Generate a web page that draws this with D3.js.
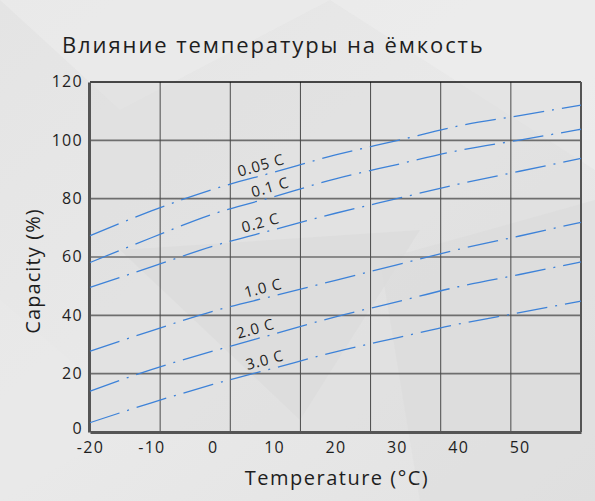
<!DOCTYPE html>
<html>
<head>
<meta charset="utf-8">
<script src="https://cdn.jsdelivr.net/npm/d3@7"></script>
<style>
  html, body { margin: 0; padding: 0; }
  body { width: 595px; height: 501px; overflow: hidden; background: #e5e5e5; }
  svg { display: block; font-family: "Open Sans", "Noto Sans", sans-serif; }
</style>
</head>
<body>
<div id="chart"></div>
<script>
// temperatures (°C) at which the curves are sampled
const temps = [-20, -10, 0, 10, 20, 30, 40, 50, 60];

// capacity (%) per discharge rate
const cap005 = [67.3, 75.8, 83.2, 89.1, 95.0, 99.9, 104.9, 108.5, 112.1];
const cap01  = [58.1, 66.6, 74.7, 80.7, 86.8, 91.7, 96.5, 100.1, 103.8];
const cap02  = [49.6, 56.6, 63.7, 69.4, 75.0, 80.0, 85.0, 89.4, 93.8];
const cap10  = [27.7, 34.7, 41.4, 46.7, 52.0, 57.3, 62.6, 67.2, 71.9];
const cap20  = [14.0, 21.4, 27.7, 33.6, 39.5, 44.6, 49.8, 54.0, 58.3];
const cap30  = [3.2, 10.0, 16.3, 21.9, 27.5, 32.3, 37.0, 40.9, 44.9];

const seriesNames = ['0.05 C', '0.1 C', '0.2 C', '1.0 C', '2.0 C', '3.0 C'];
const seriesValues = [cap005, cap01, cap02, cap10, cap20, cap30];
// temperature where each curve label sits
const labelTemps = [8.3, 9.8, 8.2, 8.6, 7.4, 8.9];

const xTicks = [-20, -10, 0, 10, 20, 30, 40, 50];
const yTicks = [0, 20, 40, 60, 80, 100, 120];

const title = 'Влияние температуры на ёмкость';
const xTitle = 'Temperature (°C)';
const yTitle = 'Capacity (%)';

const width = 595, height = 501;
const margin = { top: 82, right: 14, bottom: 69, left: 90 };

const svg = d3.select('#chart')
  .append('svg')
  .attr('width', width)
  .attr('height', height);

// background, light grey with a few faint facets
const defs = svg.append('defs');
const bg = defs.append('linearGradient')
  .attr('id', 'bg').attr('x1', 0).attr('y1', 0).attr('x2', 1).attr('y2', 1);
bg.append('stop').attr('offset', 0).attr('stop-color', '#e4e4e4');
bg.append('stop').attr('offset', 0.5).attr('stop-color', '#e9e9e9');
bg.append('stop').attr('offset', 1).attr('stop-color', '#e2e2e2');
svg.append('rect').attr('width', width).attr('height', height).attr('fill', 'url(#bg)');

const facets = [
  [[0, 0], [330, 0], [120, 110]],
  [[330, 0], [595, 0], [595, 170]],
  [[120, 250], [420, 230], [300, 420]],
  [[380, 260], [595, 200], [595, 501], [420, 501]],
  [[0, 300], [140, 420], [0, 501]]
];
const facetFills = ['#ececec', '#eeeeee', '#dcdcdc', '#dedede', '#e9e9e9'];
svg.append('g').selectAll('polygon')
  .data(facets)
  .join('polygon')
    .attr('points', d => d.map(p => p.join(',')).join(' '))
    .attr('fill', (d, i) => facetFills[i])
    .attr('opacity', 0.6);

const x = d3.scaleLinear()
  .domain([-20, 60])
  .range([margin.left, width - margin.right]);

const y = d3.scaleLinear()
  .domain([0, 120])
  .range([height - margin.bottom, margin.top]);

// plot area tint
svg.append('rect')
  .attr('x', x(-20)).attr('y', y(120))
  .attr('width', x(60) - x(-20)).attr('height', y(0) - y(120))
  .attr('fill', '#d8d8d8').attr('opacity', 0.35);

// grid: horizontal lines follow y ticks, vertical lines split the area in 7
const gridX = d3.range(1, 7).map(i => -20 + i * 80 / 7);

svg.append('g')
  .selectAll('line')
  .data(yTicks.slice(1, -1))
  .join('line')
    .attr('x1', x(-20)).attr('x2', x(60))
    .attr('y1', d => y(d)).attr('y2', d => y(d))
    .attr('stroke', '#6e6e6e')
    .attr('stroke-width', 1.6);

svg.append('g')
  .selectAll('line')
  .data(gridX)
  .join('line')
    .attr('x1', d => x(d)).attr('x2', d => x(d))
    .attr('y1', y(0)).attr('y2', y(120))
    .attr('stroke', '#4a4a4a')
    .attr('stroke-width', 1);

// frame
svg.append('line')
  .attr('x1', x(-20)).attr('x2', x(60))
  .attr('y1', y(120)).attr('y2', y(120))
  .attr('stroke', '#111').attr('stroke-width', 1.5);
svg.append('line')
  .attr('x1', x(60)).attr('x2', x(60))
  .attr('y1', y(120)).attr('y2', y(0))
  .attr('stroke', '#555').attr('stroke-width', 2);

// axes
const xAxis = svg.append('g')
  .attr('transform', `translate(0,${y(0)})`)
  .call(d3.axisBottom(x).tickValues(xTicks).tickFormat(d => String(d)).tickSize(0).tickPadding(10));
const yAxis = svg.append('g')
  .attr('transform', `translate(${x(-20) - 1},0)`)
  .call(d3.axisLeft(y).tickValues(yTicks).tickFormat(d => String(d)).tickSize(0).tickPadding(6));

[xAxis, yAxis].forEach(g => {
  g.select('.domain').attr('stroke', '#555').attr('stroke-width', 3);
  g.selectAll('text')
    .attr('fill', '#1e1e1e')
    .attr('font-size', 16)
    .attr('letter-spacing', 1.3)
    .attr('font-family', '"Open Sans", "Noto Sans", sans-serif');
});
// zero sits a little above the axis line, the rest are centred on their gridline
yAxis.selectAll('text').attr('dy', d => d === 0 ? '0.08em' : '0.3em');

// curves
const line = d3.line()
  .x((d, i) => x(temps[i]))
  .y(d => y(d))
  .curve(d3.curveMonotoneX);

const plot = svg.append('g');
plot.selectAll('path')
  .data(seriesValues)
  .join('path')
    .attr('d', line)
    .attr('fill', 'none')
    .attr('stroke', '#3d82d8')
    .attr('stroke-width', 1.3)
    .attr('stroke-dasharray', '31 8 2 8');

// curve labels, placed on each line and tilted along it
function valueAt(values, t) {
  return d3.scaleLinear().domain(temps).range(values)(t);
}
plot.selectAll('text')
  .data(seriesNames)
  .join('text')
    .attr('transform', (d, i) => {
      const t = labelTemps[i];
      const px = x(t), py = y(valueAt(seriesValues[i], t));
      const slope = (y(valueAt(seriesValues[i], t + 2)) - y(valueAt(seriesValues[i], t - 2))) / (x(t + 2) - x(t - 2));
      const ang = Math.atan(slope) * 180 / Math.PI;
      return `translate(${px},${py}) rotate(${ang})`;
    })
    .attr('dy', -5)
    .attr('text-anchor', 'middle')
    .attr('font-size', 15)
    .attr('letter-spacing', 0.8)
    .attr('fill', '#1e1e1e')
    .text(d => d);

// titles
svg.append('text')
  .attr('x', 62).attr('y', 53)
  .attr('font-size', 22)
  .attr('letter-spacing', 1.9)
  .attr('fill', '#1e1e1e')
  .text(title);

svg.append('text')
  .attr('x', 337).attr('y', 485)
  .attr('text-anchor', 'middle')
  .attr('font-size', 20)
  .attr('letter-spacing', 1.5)
  .attr('fill', '#1e1e1e')
  .text(xTitle);

svg.append('text')
  .attr('transform', `translate(40,${(y(0) + y(120)) / 2 + 14}) rotate(-90)`)
  .attr('text-anchor', 'middle')
  .attr('font-size', 20)
  .attr('letter-spacing', 1.1)
  .attr('fill', '#1e1e1e')
  .text(yTitle);
</script>
</body>
</html>
